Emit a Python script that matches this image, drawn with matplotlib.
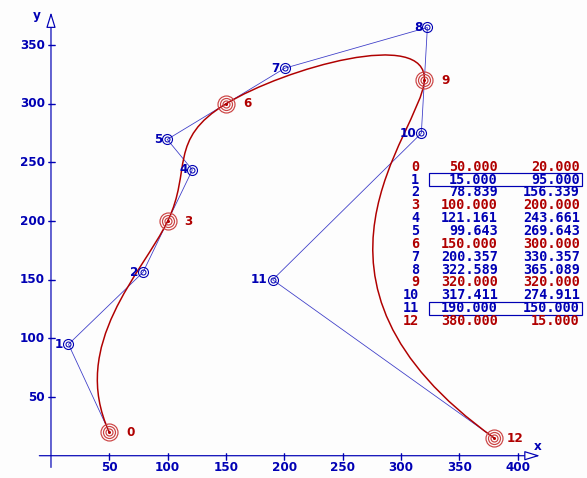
import matplotlib
matplotlib.use("Agg")
import matplotlib.pyplot as plt
from matplotlib.path import Path
from matplotlib.patches import PathPatch, Rectangle

# control points of the piecewise cubic Bezier curve
px = [50.0, 15.0, 78.839, 100.0, 121.161, 99.643, 150.0,
      200.357, 322.589, 320.0, 317.411, 190.0, 380.0]
py = [20.0, 95.0, 156.339, 200.0, 243.661, 269.643, 300.0,
      330.357, 365.089, 320.0, 274.911, 150.0, 15.0]
boxed_rows = [1, 11]
x_ticks = [50, 100, 150, 200, 250, 300, 350, 400]
y_ticks = [50, 100, 150, 200, 250, 300, 350]

RED = "#b00000"
RING = "#cc4444"
BLUE = "#0000b4"
POLY = "#3c3cc8"

W, H = 587, 478
fig = plt.figure(figsize=(W / 72, H / 72), dpi=72, facecolor="#fdfdfd")
ax = fig.add_axes([0, 0, 1, 1])
ax.set_facecolor("#fdfdfd")
ax.set_xlim(-43.7, 459.4)
ax.set_ylim(-19.0, 388.5)
ax.axis("off")

def fig_px(x, y):
    # pixel position (from top-left) to axes fraction
    return x / W, 1 - y / H

# axes with hollow arrow heads
ax.annotate("", xy=(419, 0), xytext=(-10, 0),
            arrowprops=dict(arrowstyle="-|>,head_length=1.3,head_width=0.4",
                            fc="white", ec=BLUE, lw=1.2, mutation_scale=10,
                            shrinkA=0, shrinkB=0))
ax.annotate("", xy=(0, 378), xytext=(0, -10),
            arrowprops=dict(arrowstyle="-|>,head_length=1.3,head_width=0.4",
                            fc="white", ec=BLUE, lw=1.2, mutation_scale=10,
                            shrinkA=0, shrinkB=0))
ax.text(*fig_px(538, 446), "x", transform=ax.transAxes, color=BLUE,
        fontsize=12, fontweight="bold", ha="center", va="center")
ax.text(*fig_px(37, 16), "y", transform=ax.transAxes, color=BLUE,
        fontsize=12, fontweight="bold", ha="center", va="center")

for t in x_ticks:
    ax.plot([t, t], [0, 0], marker="|", ms=7, mew=1.2, color=BLUE)
    ax.annotate(str(t), (t, 0), xytext=(0, -12), textcoords="offset points",
                ha="center", va="center", color=BLUE, fontsize=12,
                fontweight="bold")
for t in y_ticks:
    ax.plot([0, 0], [t, t], marker="_", ms=7, mew=1.2, color=BLUE)
    ax.annotate(str(t), (0, t), xytext=(-6, 0), textcoords="offset points",
                ha="right", va="center", color=BLUE, fontsize=12,
                fontweight="bold")

# control polygon
ax.plot(px, py, color=POLY, lw=0.8, zorder=2)

# Bezier curve through the library's path machinery
verts = list(zip(px, py))
codes = [Path.MOVETO] + [Path.CURVE4] * (len(verts) - 1)
ax.add_patch(PathPatch(Path(verts, codes), fc="none", ec=RED, lw=1.5,
                       zorder=3))

# point markers and labels
for i, (x, y) in enumerate(zip(px, py)):
    if i % 3 == 0:
        for ms in (17, 12, 7):
            ax.plot(x, y, "o", ms=ms, mfc="none", mec=RING, mew=1.2,
                    zorder=4)
        ax.plot(x, y, "o", ms=2, color=RED, zorder=4)
        ax.annotate(str(i), (x, y), xytext=(21, 0),
                    textcoords="offset points", ha="center", va="center",
                    color=RED, fontsize=12, fontweight="bold")
    else:
        ax.plot(x, y, "o", ms=10, mfc="none", mec=BLUE, mew=1.1, zorder=4)
        ax.plot(x, y, "o", ms=5, mfc="none", mec=BLUE, mew=1.0, zorder=4)
        ax.annotate(str(i), (x, y), xytext=(-5, 0),
                    textcoords="offset points", ha="right", va="center",
                    color=BLUE, fontsize=12, fontweight="bold")

# coordinate table
row0, step = 166.7, 12.85
for i, (x, y) in enumerate(zip(px, py)):
    c = RED if i % 3 == 0 else BLUE
    yy = row0 + i * step
    kw = dict(transform=ax.transAxes, color=c, fontsize=13.5,
              fontweight="bold", family="DejaVu Sans Mono", va="center",
              ha="right")
    ax.text(*fig_px(419, yy), str(i), **kw)
    ax.text(*fig_px(498, yy), f"{x:.3f}", **kw)
    ax.text(*fig_px(580, yy), f"{y:.3f}", **kw)
    if i in boxed_rows:
        x0, y0 = fig_px(429, yy + 6.5)
        x1, y1 = fig_px(582, yy - 6.5)
        ax.add_patch(Rectangle((x0, y0), x1 - x0, y1 - y0,
                               transform=ax.transAxes, fc="none",
                               ec=BLUE, lw=1.2))

fig.savefig("out.png", dpi=72, facecolor=fig.get_facecolor())
